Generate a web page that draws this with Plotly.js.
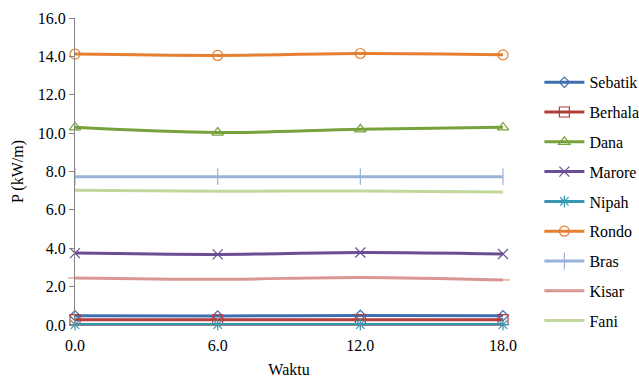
<!DOCTYPE html>
<html>
<head>
<meta charset="utf-8">
<script src="https://cdn.plot.ly/plotly-3.0.1.min.js"></script>
<style>html,body{margin:0;padding:0;background:#fff;}#chart{width:639px;height:379px;}</style>
</head>
<body>
<div id="chart"></div>
<script>
const waktu = [0, 6, 12, 18];
const xTickLabels = ["0.0", "6.0", "12.0", "18.0"];
const yTickValues = [0, 2, 4, 6, 8, 10, 12, 14, 16];
const yTickLabels = ["0.0", "2.0", "4.0", "6.0", "8.0", "10.0", "12.0", "14.0", "16.0"];

const sebatik = [0.48, 0.47, 0.50, 0.48];
const berhala = [0.28, 0.27, 0.28, 0.28];
const dana    = [10.30, 10.03, 10.20, 10.30];
const marore  = [3.75, 3.68, 3.78, 3.70];
const nipah   = [0.02, 0.02, 0.02, 0.02];
const rondo   = [14.12, 14.05, 14.15, 14.08];
const bras    = [7.73, 7.73, 7.73, 7.73];
const kisar   = [2.45, 2.38, 2.48, 2.35];
const fani    = [7.02, 6.97, 6.99, 6.93];

const seriesNames = ["Sebatik", "Berhala", "Dana", "Marore", "Nipah", "Rondo", "Bras", "Kisar", "Fani"];
const seriesData = [sebatik, berhala, dana, marore, nipah, rondo, bras, kisar, fani];
const colors = ["#3F6FAE", "#B33E3B", "#77A23B", "#6B4D94", "#3797B1", "#E57F32", "#98B4DA", "#DA9695", "#C2D79C"];
const symbols = ["diamond-open", "square-open", "triangle-up-open", "x-thin-open", "asterisk-open", "circle-open", "line-ns-open", "line-ew-open", "circle"];
const markerSizes = [8, 10, 10, 10, 10, 10, 12, 10, 0];

const FONT = "serif";

const traces = seriesNames.map((name, i) => ({
  x: waktu,
  y: seriesData[i],
  name: name,
  type: "scatter",
  mode: i === 8 ? "lines" : "lines+markers",
  line: {color: colors[i], width: 3, shape: "spline", smoothing: 1},
  marker: {symbol: symbols[i], size: markerSizes[i], color: colors[i], line: {color: colors[i], width: 1.2}},
  cliponaxis: false,
  legendgroup: "g" + i
}));

const layout = {
  width: 639,
  height: 379,
  margin: {l: 75, r: 136, t: 18, b: 54, autoexpand: false},
  paper_bgcolor: "#ffffff",
  plot_bgcolor: "#ffffff",
  font: {family: FONT, size: 16, color: "#000000"},
  showlegend: true,
  legend: {
    x: 1.085, y: 0.846, xanchor: "left", yanchor: "top",
    traceorder: "grouped",
    tracegroupgap: 6,
    font: {family: FONT, size: 16, color: "#000"},
    itemwidth: 40,
    bgcolor: "rgba(0,0,0,0)"
  },
  xaxis: {
    range: [0, 18],
    tickvals: waktu,
    ticktext: xTickLabels,
    showgrid: false,
    zeroline: false,
    showline: true,
    linecolor: "#868686",
    linewidth: 1,
    ticks: "",
    ticklabelstandoff: 6,
    automargin: false,
    tickfont: {family: FONT, size: 16},
    title: {text: "Waktu", font: {family: FONT, size: 16}, standoff: 10}
  },
  yaxis: {
    range: [0, 16],
    tickvals: yTickValues,
    ticktext: yTickLabels,
    showgrid: false,
    zeroline: false,
    showline: true,
    linecolor: "#868686",
    linewidth: 1,
    ticks: "outside",
    ticklen: 5,
    tickcolor: "#868686",
    automargin: false,
    tickfont: {family: FONT, size: 16},
    title: {text: "P (kW/m)", font: {family: FONT, size: 16}, standoff: 10}
  }
};

Plotly.newPlot("chart", traces, layout, {displayModeBar: false, staticPlot: true});
</script>
</body>
</html>
